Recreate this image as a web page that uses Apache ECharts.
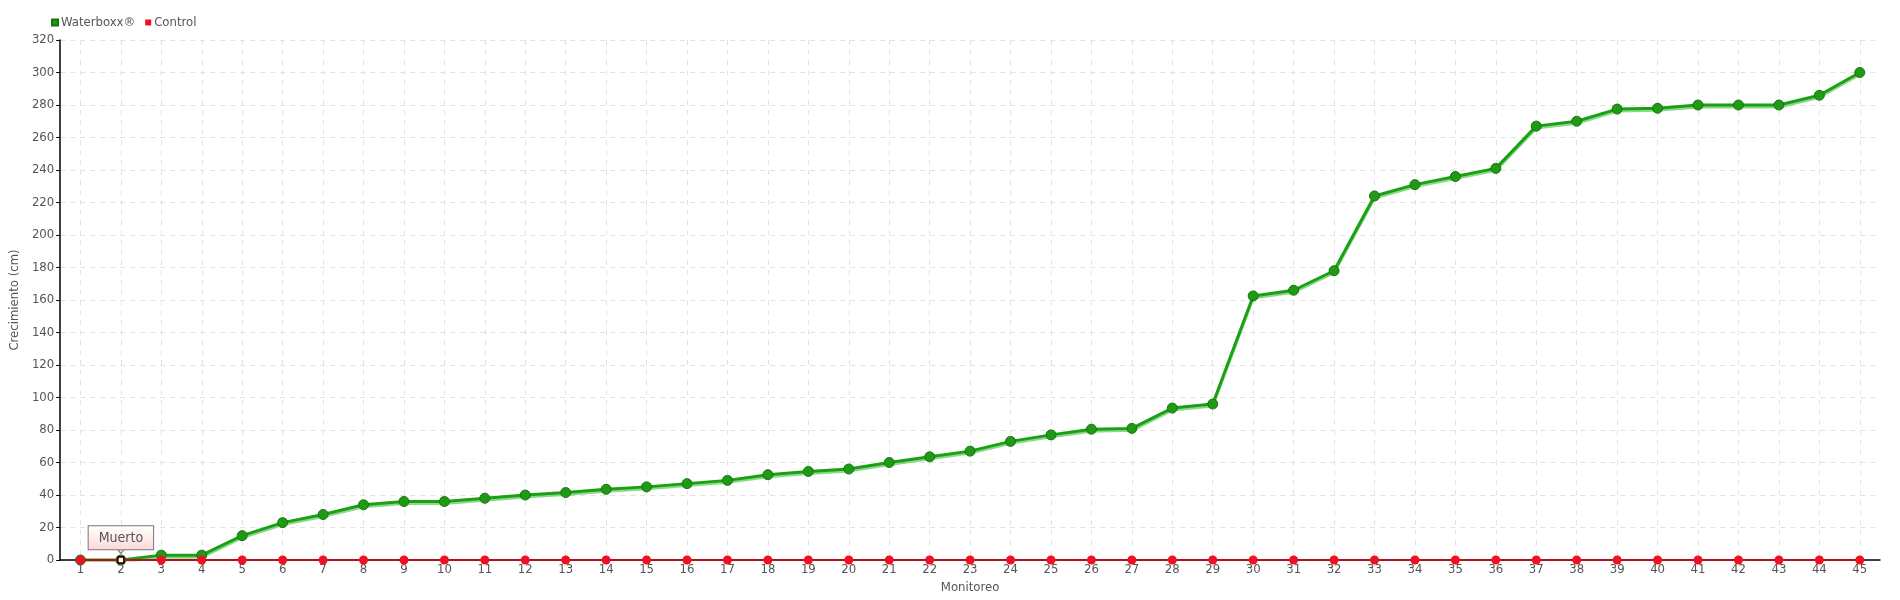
<!DOCTYPE html>
<html><head><meta charset="utf-8">
<script src="https://cdn.jsdelivr.net/npm/echarts@6/dist/echarts.min.js"></script>
<style>html,body{margin:0;padding:0;background:#fff}#c{width:1900px;height:600px}</style>
</head><body><div id="c"></div>
<script>
const categories = ['1','2','3','4','5','6','7','8','9','10','11','12','13','14','15','16','17','18','19','20','21','22','23','24','25','26','27','28','29','30','31','32','33','34','35','36','37','38','39','40','41','42','43','44','45'];
const waterboxx = [0,0,3,3,15,23,28,34,36,36,38,40,41.5,43.5,45,47,49,52.5,54.5,56,60,63.5,67,73,77,80.5,81,93.5,96,162.5,166,178,224,231,236,241,267,270,277.5,278,280,280,280,286,300];
const control = [0,0,0,0,0,0,0,0,0,0,0,0,0,0,0,0,0,0,0,0,0,0,0,0,0,0,0,0,0,0,0,0,0,0,0,0,0,0,0,0,0,0,0,0,0];
const yTicks = {min:0, max:320, interval:20};
const note = {category:'2', value:0, text:'Muerto'};

const FONT = '"DejaVu Sans Condensed", "Liberation Sans Narrow", sans-serif';
const chart = echarts.init(document.getElementById('c'));
chart.setOption({
  animation:false,
  textStyle:{fontFamily:FONT},
  legend:{left:46, top:11, itemWidth:6, itemHeight:6, itemGap:10, icon:'rect',
    textStyle:{fontFamily:FONT, fontSize:13, color:'#555', padding:[0,0,0,-2]},
    data:['Waterboxx®','Control']},
  grid:{left:60, right:20, top:40, bottom:40},
  xAxis:{type:'category', data:categories, boundaryGap:true,
    name:'Monitoreo', nameLocation:'middle', nameGap:14,
    nameTextStyle:{fontFamily:FONT, fontSize:13, color:'#555'},
    axisLine:{lineStyle:{color:'#000', width:1.5}},
    axisTick:{show:false},
    axisLabel:{fontFamily:FONT, fontSize:13, color:'#555', margin:3, interval:0},
    splitLine:{show:true, alignWithLabel:true, lineStyle:{color:'#e2e2e2', type:[5,5]}}},
  yAxis:{type:'value', min:yTicks.min, max:yTicks.max, interval:yTicks.interval,
    name:'Crecimiento (cm)', nameLocation:'middle', nameGap:30,
    nameTextStyle:{fontFamily:FONT, fontSize:13, color:'#555'},
    axisLine:{show:true, lineStyle:{color:'#000', width:1.5}},
    axisTick:{show:true, length:4, lineStyle:{color:'#000'}},
    axisLabel:{fontFamily:FONT, fontSize:13, color:'#555', margin:6},
    splitLine:{show:true, lineStyle:{color:'#e2e2e2', type:[5,5]}}},
  series:[
    {name:'Waterboxx®', type:'line', data:waterboxx, color:'#1f9a14',
      symbol:'circle', symbolSize:10, z:3,
      lineStyle:{color:'#1aa012', width:3, shadowColor:'rgba(60,190,60,0.6)', shadowBlur:0, shadowOffsetY:2},
      itemStyle:{color:'#1f9a14', borderColor:'#177510', borderWidth:1}},
    {name:'Control', type:'line', data:control, color:'#ee1122',
      symbol:'circle', symbolSize:9, z:4,
      lineStyle:{color:'#b8101a', width:2},
      itemStyle:{color:'#ee1122'},
      markPoint:{z:10,
        data:[
          {coord:[note.category, note.value], symbol:'triangle', symbolSize:[12,7], symbolRotate:180,
            symbolOffset:[0,-10], itemStyle:{color:'#fcdede', borderColor:'#777', borderWidth:1},
            label:{show:false}},
          {coord:[note.category, note.value], symbol:'rect', symbolSize:6,
            itemStyle:{color:'#fff', borderColor:'#000', borderWidth:1.5},
            label:{show:true, position:'top', distance:7, formatter:note.text,
              fontFamily:FONT, fontSize:14, color:'#555',
              backgroundColor:{type:'linear',x:0,y:0,x2:0,y2:1,colorStops:[{offset:0,color:'#fff'},{offset:1,color:'#fcd9d9'}]},
              borderColor:'#777', borderWidth:1, padding:[5,10,4,10]}}
        ]}}
  ]
});
</script></body></html>
